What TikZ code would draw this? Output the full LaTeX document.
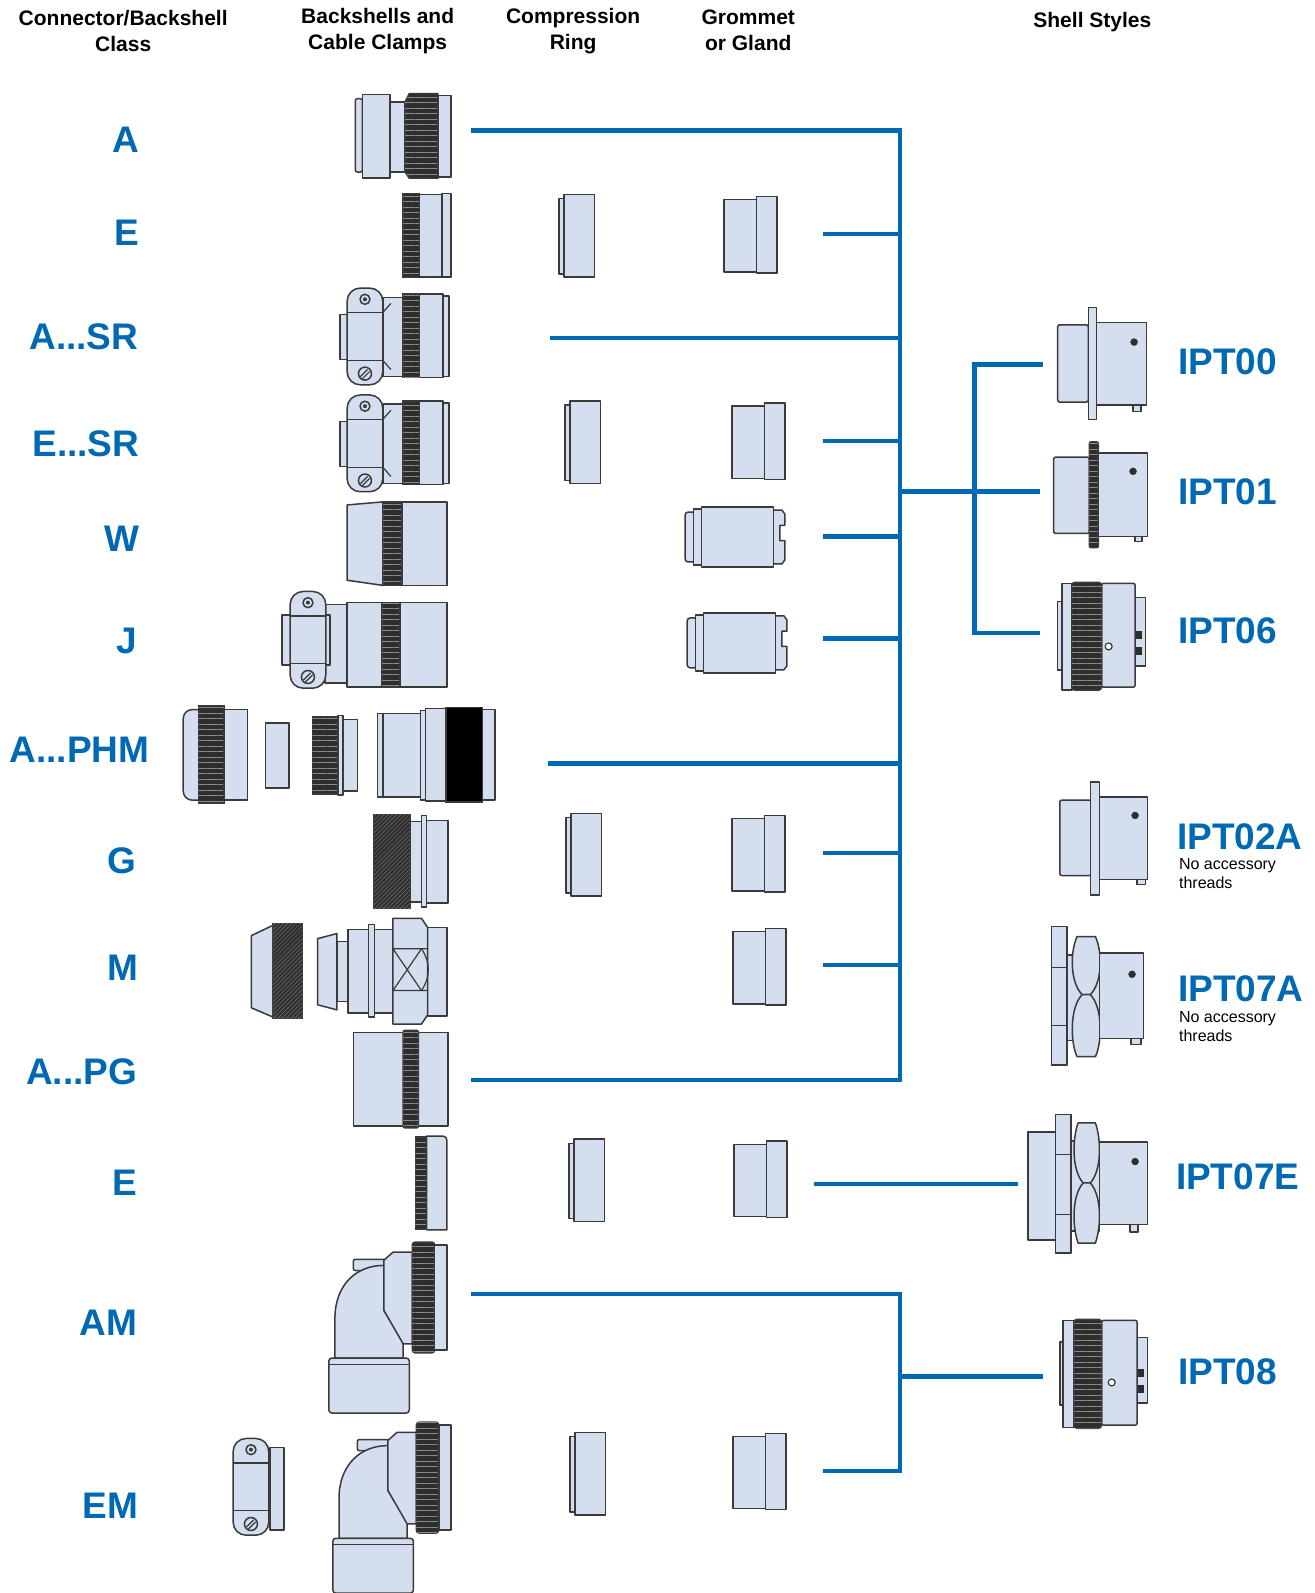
\documentclass[tikz,border=0pt]{standalone}
\usepackage{fontspec}
\setmainfont{Liberation Sans}
\usetikzlibrary{patterns.meta}
\definecolor{partfill}{HTML}{D4DEEF}
\definecolor{partline}{HTML}{3A3A3A}
\definecolor{knurldark}{HTML}{2E2E2E}
\definecolor{knurlline}{HTML}{8C8C8C}
\definecolor{linkblue}{HTML}{0069B4}
\tikzset{
  part/.style={fill=partfill, draw=partline, line width=1.5pt, line join=round},
  seam/.style={draw=partline, line width=1.2pt},
  knurl/.style={fill=knurldark, draw=partline, line width=1.5pt,
    postaction={pattern={Lines[angle=0,distance=5.5pt,line width=0.9pt]}, pattern color=knurlline}},
  knurlx/.style={fill=knurldark, draw=partline, line width=1.5pt,
    postaction={pattern={Lines[angle=45,distance=3pt,line width=0.5pt]}, pattern color=black!55!white}},
  link/.style={draw=linkblue, line width=4.5pt},
  cls/.style={text=linkblue, inner sep=0pt, text height=0.72em, text depth=0pt,
    font=\bfseries\fontsize{37}{40}\selectfont},
  head/.style={align=center, inner sep=0pt, font=\bfseries\fontsize{21}{26}\selectfont},
  note/.style={align=left, inner sep=0pt, font=\fontsize{16}{19}\selectfont}
}
\newcommand{\compring}[2]{%
  \draw[part] (#1,#2+4) rectangle ++(5,74);
  \draw[part] (#1+5,#2) rectangle ++(30,81);}
\newcommand{\grommet}[2]{%
  \draw[part] (#1,#2+3) rectangle ++(32,71);
  \draw[part] (#1+32,#2) rectangle ++(20,75);}
\newcommand{\longgrommet}[2]{%
  \draw[part, rounded corners=3pt] (#1,#2+5) rectangle ++(10,49);
  \draw[part] (#1+8,#2+2) rectangle ++(8,55);
  \draw[part] (#1+86,#2+3) -- (#1+95,#2+3) -- (#1+98,#2+7) -- (#1+98,#2+18) -- (#1+93,#2+18)
    -- (#1+93,#2+33) -- (#1+98,#2+33) -- (#1+98,#2+52) -- (#1+95,#2+56) -- (#1+86,#2+56) -- cycle;
  \draw[part] (#1+16,#2) rectangle ++(71,59);}
\newcommand{\clampear}[2]{%
  \draw[part, rounded corners=13pt] (#1,#2) rectangle ++(35,95);
  \draw[seam] (#1,#2+24) -- ++(35,0) (#1,#2+71) -- ++(35,0);
  \draw[part] (#1+17.5,#2+11) circle (5pt);
  \fill[partline] (#1+17.5,#2+11) circle (2pt);
  \draw[part] (#1+17.5,#2+84) circle (6.5pt);
  \draw[seam] (#1+13,#2+87) -- (#1+20,#2+80) (#1+15,#2+89) -- (#1+22,#2+82);}
\newcommand{\srbackshell}[1]{%
  \draw[part] (334,#1+26) rectangle (342,#1+70);
  \draw[part] (376,#1+9) rectangle (396,#1+87);
  \draw[seam] (376,#1+24) -- (384,#1+15) (376,#1+71) -- (384,#1+80);
  \clampear{341}{#1}
  \draw[knurl] (396,#1+6) rectangle (412,#1+88);
  \draw[part] (412,#1+6) rectangle (435,#1+88);
  \draw[part] (435,#1+8) rectangle (441,#1+87);}
\newcommand{\elbowshell}[2]{%
  \begin{scope}[shift={(#1,#2)}]
  \draw[part, rounded corners=2pt] (347,1237) rectangle (380,1248);
  \draw[part] (329,1334) -- (329,1295) .. controls (329,1262) and (350,1243) .. (377,1243)
    -- (377,1287) -- (396,1318) -- (396,1334) -- cycle;
  \draw[part] (377,1238) -- (386,1230) -- (405,1230) -- (405,1320) -- (396,1320) -- (377,1287) -- cycle;
  \draw[knurl, rounded corners=3pt] (405,1220) rectangle (427,1329);
  \draw[part] (427,1223) rectangle (439,1326);
  \draw[part, rounded corners=3pt] (323,1334) rectangle (402,1388);
  \draw[seam] (323,1340) -- (402,1340);
  \end{scope}}
\begin{document}
\begin{tikzpicture}[x=1.018pt, y=-1.018pt]
\fill[white] (0,0) rectangle (1290.8,1564.8);
\useasboundingbox (0,0) rectangle (1290.8,1564.8);

\node[head] (hClass) at (121,30) {Connector/Backshell\\Class};
\node[head] (hShell) at (371,31) {Backshells and\\Cable Clamps};
\node[head] (hRing) at (563,31) {Compression\\Ring};
\node[head] (hGland) at (735,30) {Grommet\\or Gland};
\node[head] (hStyle) at (1073,22) {Shell Styles};

\node[cls, anchor=east] (lA) at (137,146) {A};
\node[cls, anchor=east] (lE) at (137,238) {E};
\node[cls, anchor=east] (lASR) at (136,340) {A...SR};
\node[cls, anchor=east] (lESR) at (137,445) {E...SR};
\node[cls, anchor=east] (lW) at (137,538) {W};
\node[cls, anchor=east] (lJ) at (135,638) {J};
\node[cls, anchor=east] (lPHM) at (147,745) {A...PHM};
\node[cls, anchor=east] (lG) at (134,854) {G};
\node[cls, anchor=east] (lM) at (136,960) {M};
\node[cls, anchor=east] (lAPG) at (135,1062) {A...PG};
\node[cls, anchor=east] (lE2) at (135,1171) {E};
\node[cls, anchor=east] (lAM) at (135,1308) {AM};
\node[cls, anchor=east] (lEM) at (136,1488) {EM};

\node[cls, anchor=west] (t00) at (1157,364) {IPT00};
\node[cls, anchor=west] (t01) at (1157,492) {IPT01};
\node[cls, anchor=west] (t06) at (1157,629) {IPT06};
\node[cls, anchor=west] (t02A) at (1156,831) {IPT02A};
\node[note, anchor=north west] (n02A) at (1158,843) {No accessory\\threads};
\node[cls, anchor=west] (t07A) at (1157,980) {IPT07A};
\node[note, anchor=north west] (n07A) at (1158,993) {No accessory\\threads};
\node[cls, anchor=west] (t07E) at (1155,1165) {IPT07E};
\node[cls, anchor=west] (t08) at (1157,1356) {IPT08};

% A
\draw[part, rounded corners=2pt] (349,97) rectangle (356,169);
\draw[part] (356,93) rectangle (383,175);
\draw[part] (383,100) rectangle (398,169);
\draw[knurl] (398,100) -- (402,92) -- (430,92) -- (430,175) -- (402,175) -- (398,169) -- cycle;
\draw[part] (430,94) rectangle (443,174);
% E
\draw[knurl] (396,190) rectangle (412,272);
\draw[part] (412,191) rectangle (434,272);
\draw[part] (434,190) rectangle (443,272);
\compring{549}{191}
\grommet{711}{193}
% SR
\srbackshell{283}
\srbackshell{388}
\compring{555}{394}
\grommet{719}{396}
% W
\draw[part] (341,496) -- (376,493) -- (376,575) -- (341,570) -- cycle;
\draw[knurl] (376,493) rectangle (395,575);
\draw[part] (395,493) rectangle (439,575);
\longgrommet{673}{498}
% J
\draw[part] (319,594) rectangle (341,671);
\draw[part] (277,604) rectangle (324,653);
\clampear{285}{581}
\draw[part] (341,592) rectangle (375,675);
\draw[knurl] (375,592) rectangle (393,675);
\draw[part] (393,592) rectangle (439,675);
\longgrommet{675}{602}
% PHM
\draw[part] (197,697) [rounded corners=9pt] -- (180,697) -- (180,786) [sharp corners] -- (197,786) -- cycle;
\draw[knurl] (195,693) rectangle (220,789);
\draw[part] (220,697) rectangle (243,786);
\draw[part] (261,710) rectangle (284,774);
\draw[knurl] (307,704) rectangle (332,780);
\draw[part] (332,703) rectangle (337,781);
\draw[part] (337,707) rectangle (351,777);
\draw[part] (371,701) rectangle (376,783);
\draw[part] (376,701) rectangle (413,783);
\draw[part] (413,698) rectangle (418,786);
\draw[part] (418,696) rectangle (438,787);
\draw[fill=black, draw=partline, line width=1.5pt] (438,695) rectangle (474,788);
\draw[part] (474,697) rectangle (486,786);
% G
\draw[knurlx] (367,800) rectangle (403,892);
\draw[part] (403,807) rectangle (414,886);
\draw[part] (414,801) rectangle (419,891);
\draw[part] (419,806) rectangle (440,887);
\compring{556}{799}
\grommet{719}{801}
% M
\draw[part] (247,919) -- (268,909) -- (268,999) -- (247,990) -- cycle;
\draw[knurlx] (268,907) rectangle (297,1000);
\draw[part] (312,922) -- (331,917) -- (331,992) -- (312,987) -- cycle;
\draw[part] (331,925) rectangle (342,984);
\draw[part] (342,913) rectangle (362,995);
\draw[part] (362,908) rectangle (368,999);
\draw[part] (368,913) rectangle (386,995);
\draw[part] (420,911) rectangle (439,998);
\draw[part] (386,902) -- (414,902) -- (420,911) -- (420,997) -- (414,1006) -- (386,1006) -- cycle;
\draw[seam] (386,932) -- (420,932) (386,973) -- (420,973) (386,932) -- (414,973) (386,973) -- (414,932);
\draw[seam] (414,932) .. controls (423,945) and (423,960) .. (414,973);
\grommet{720}{912}
% PG
\draw[part] (347,1014) rectangle (440,1106);
\draw[knurl, rounded corners=2pt] (396,1012) rectangle (411,1108);
% E
\draw[knurl] (408,1117) rectangle (419,1207);
\draw[part] (419,1208) -- (419,1116) [rounded corners=4pt] -- (439,1116) [sharp corners] -- (439,1208) -- cycle;
\compring{559}{1119}
\grommet{721}{1121}
% AM, EM
\elbowshell{0}{0}
\elbowshell{4}{177}
\draw[part] (265,1422) rectangle (279,1503);
\clampear{229}{1413}
\compring{560}{1407}
\grommet{720}{1408}

% shells
\draw[part, rounded corners=2pt] (1039,319) rectangle (1069,395);
\draw[part] (1069,302) rectangle (1077,412);
\draw[part] (1113,398) rectangle (1121,404);
\draw[part] (1077,317) rectangle (1126,398);
\filldraw[fill=knurldark, draw=partline] (1114,336) circle (3.5pt);

\draw[part, rounded corners=2pt] (1035,449) rectangle (1070,524);
\draw[knurl, rounded corners=2pt] (1070,434) rectangle (1079,538);
\draw[part] (1115,527) rectangle (1122,532);
\draw[part] (1079,445) rectangle (1127,527);
\filldraw[fill=knurldark, draw=partline] (1113,463) circle (3.5pt);

\draw[part] (1039,591) rectangle (1043,658);
\draw[part] (1043,573) rectangle (1053,678);
\draw[part] (1115,587) rectangle (1125,654);
\draw[knurldark, fill=knurldark] (1115,620) rectangle (1121,627) (1115,636) rectangle (1121,643);
\draw[part, rounded corners=2pt] (1082,573) rectangle (1115,675);
\draw[knurl, rounded corners=3pt] (1053,572) rectangle (1082,678);
\draw[fill=white, draw=partline, line width=1.2pt] (1089,635) circle (3.5pt);

\draw[part, rounded corners=2pt] (1041,786) rectangle (1072,860);
\draw[part] (1071,768) rectangle (1080,879);
\draw[part] (1117,864) rectangle (1125,869);
\draw[part] (1080,783) rectangle (1127,864);
\filldraw[fill=knurldark, draw=partline] (1115,801) circle (3.5pt);

\draw[part] (1033,910) rectangle (1048,1046);
\draw[seam] (1033,950) -- (1048,950) (1033,1007) -- (1048,1007);
\draw[part] (1048,938) rectangle (1080,1022);
\draw[part] (1058,920) -- (1076,920) .. controls (1083,935) and (1083,965) .. (1071,977) -- (1063,977) .. controls (1051,965) and (1051,935) .. cycle;
\draw[part] (1063,977) -- (1071,977) .. controls (1083,989) and (1083,1023) .. (1076,1038) -- (1058,1038) .. controls (1051,1023) and (1051,989) .. cycle;
\draw[part] (1111,1020) rectangle (1121,1026);
\draw[part] (1080,936) rectangle (1123,1020);
\filldraw[fill=knurldark, draw=partline] (1112,957) circle (3.5pt);

\draw[part] (1010,1112) rectangle (1038,1218);
\draw[part] (1037,1095) rectangle (1052,1231);
\draw[seam] (1037,1134) -- (1052,1134) (1037,1193) -- (1052,1193);
\draw[part] (1052,1121) rectangle (1080,1209);
\draw[part] (1059,1103) -- (1076,1103) .. controls (1082,1120) and (1082,1150) .. (1071,1162) -- (1064,1162) .. controls (1053,1150) and (1053,1120) .. cycle;
\draw[part] (1064,1162) -- (1071,1162) .. controls (1082,1174) and (1082,1204) .. (1076,1221) -- (1059,1221) .. controls (1053,1204) and (1053,1174) .. cycle;
\draw[part] (1110,1203) rectangle (1118,1210);
\draw[part] (1080,1122) rectangle (1127,1203);
\filldraw[fill=knurldark, draw=partline] (1115,1141) circle (3.5pt);

\draw[part] (1041,1318) rectangle (1044,1380);
\draw[part] (1044,1297) rectangle (1055,1402);
\draw[part] (1117,1314) rectangle (1127,1378);
\draw[knurldark, fill=knurldark] (1117,1345) rectangle (1123,1352) (1117,1361) rectangle (1123,1368);
\draw[part, rounded corners=2pt] (1082,1297) rectangle (1117,1400);
\draw[knurl, rounded corners=3pt] (1055,1296) rectangle (1082,1403);
\draw[fill=white, draw=partline, line width=1.2pt] (1092,1358) circle (3.5pt);

% links
\coordinate (bus) at (884,0);
\coordinate (sbus) at (957,0);
\coordinate (cA) at (463,128);
\coordinate (cE) at (808,230);
\coordinate (cASR) at (540,332);
\coordinate (cESR) at (808,433);
\coordinate (cW) at (808,527);
\coordinate (cJ) at (808,627);
\coordinate (cPHM) at (538,750);
\coordinate (cG) at (808,838);
\coordinate (cM) at (808,948);
\coordinate (cPG) at (463,1061);
\coordinate (cE2) at (800,1163);
\coordinate (cAM) at (463,1271);
\coordinate (cEM) at (808,1445);
\coordinate (s00) at (1025,358);
\coordinate (s01) at (1022,483);
\coordinate (s06) at (1022,622);
\coordinate (s07E) at (1000,1163);
\coordinate (s08) at (1025,1352);
\draw[link] (cA) -| (bus |- cPG) -- (cPG);
\foreach \c in {cE,cASR,cESR,cW,cJ,cPHM,cG,cM}
  \draw[link] (\c) -- (\c -| bus);
\draw[link] (s01 -| bus) -- (s01);
\draw[link] (s00) -| (sbus |- s06) -- (s06);
\draw[link] (cE2) -- (s07E);
\draw[link] (cAM) -| (bus |- cEM) -- (cEM);
\draw[link] (s08 -| bus) -- (s08);
\end{tikzpicture}
\end{document}
